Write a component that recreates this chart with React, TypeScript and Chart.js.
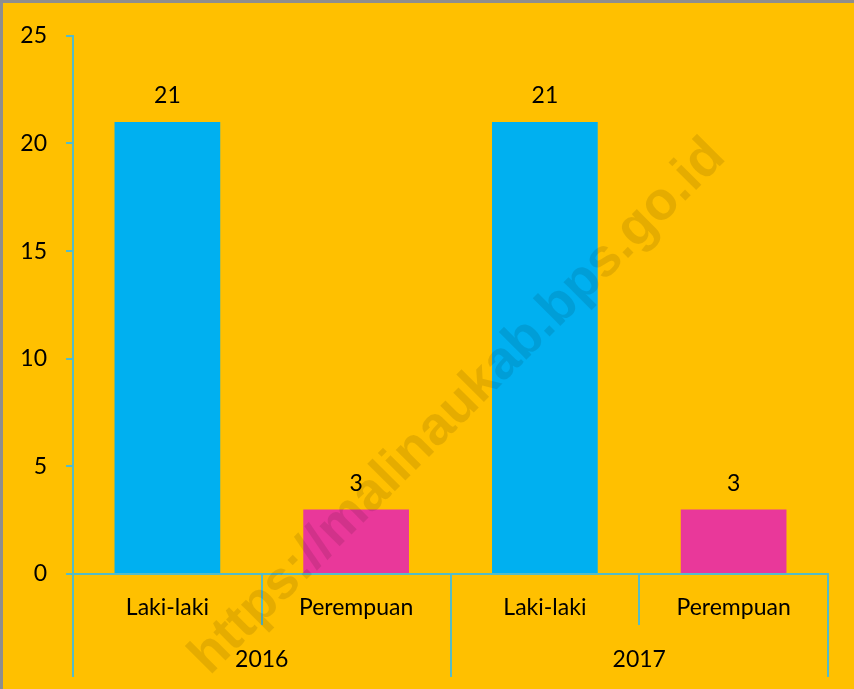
import React, { useEffect, useRef } from "react";
import { Chart, registerables } from "chart.js";

Chart.register(...registerables);

// ---- data ----
const years = ["2016", "2017"];
const genders = ["Laki-laki", "Perempuan"];
const lakiLaki = [21, 21];
const perempuan = [3, 3];
const yMax = 25;
const yStep = 5;

// ---- styles ----
const AXIS = "#55BCC8";
const CYAN = "#00B0F0";
const PINK = "#E9389A";
const BG = "#FFC000";
const FONT = "Lato";
const FS = 23;
const WATERMARK = "https://malinaukab.bps.go.id";

const labels: string[] = [];
const values: number[] = [];
const colors: string[] = [];
years.forEach((_, i) => {
  labels.push(genders[0]);
  values.push(lakiLaki[i]);
  colors.push(CYAN);
  labels.push(genders[1]);
  values.push(perempuan[i]);
  colors.push(PINK);
});

const groupAxisPlugin = {
  id: "groupAxis",
  afterDraw(chart: any) {
    const { ctx, chartArea } = chart;
    const x = chart.scales.x;
    const n = labels.length;
    const step = (x.right - x.left) / n;
    const bounds: number[] = [];
    for (let i = 0; i <= n; i++) bounds.push(x.left + i * step);
    ctx.save();
    ctx.strokeStyle = AXIS;
    ctx.lineWidth = 2;
    bounds.forEach((b, i) => {
      const isYear = i % genders.length === 0;
      ctx.beginPath();
      ctx.moveTo(Math.round(b), chartArea.bottom);
      ctx.lineTo(Math.round(b), chartArea.bottom + (isYear ? 103 : 51));
      ctx.stroke();
    });
    ctx.fillStyle = "#000";
    ctx.font = `${FS}px ${FONT}`;
    ctx.textAlign = "center";
    ctx.textBaseline = "middle";
    years.forEach((yr, k) => {
      const cx = (bounds[k * genders.length] + bounds[(k + 1) * genders.length]) / 2;
      ctx.fillText(yr, cx, chartArea.bottom + 86);
    });
    ctx.restore();
  },
};

const valueLabelPlugin = {
  id: "valueLabels",
  afterDatasetsDraw(chart: any) {
    const { ctx } = chart;
    const meta = chart.getDatasetMeta(0);
    ctx.save();
    ctx.fillStyle = "#000";
    ctx.font = `${FS}px ${FONT}`;
    ctx.textAlign = "center";
    ctx.textBaseline = "middle";
    meta.data.forEach((bar: any, i: number) => {
      ctx.fillText(String(values[i]), bar.x, bar.y - 26);
    });
    ctx.restore();
  },
};

const watermarkPlugin = {
  id: "watermark",
  afterDraw(chart: any) {
    const { ctx } = chart;
    ctx.save();
    ctx.translate(455, 404);
    ctx.rotate(-Math.PI / 4);
    ctx.font = `bold 54px "Liberation Sans"`;
    ctx.fillStyle = "rgba(0,0,0,0.1)";
    ctx.textAlign = "center";
    ctx.textBaseline = "middle";
    ctx.fillText(WATERMARK, 0, 0);
    ctx.restore();
  },
};

export default function App() {
  const canvasRef = useRef<HTMLCanvasElement | null>(null);

  useEffect(() => {
    if (!canvasRef.current) return;
    const chart = new Chart(canvasRef.current, {
      type: "bar",
      data: {
        labels,
        datasets: [
          {
            data: values,
            backgroundColor: colors,
            borderWidth: 0,
            categoryPercentage: 0.56,
            barPercentage: 1,
          },
        ],
      },
      options: {
        animation: false,
        responsive: true,
        maintainAspectRatio: false,
        layout: { padding: { top: 30, right: 26, left: 0, bottom: 0 } },
        plugins: {
          legend: { display: false },
          tooltip: { enabled: false },
        },
        scales: {
          x: {
            grid: { display: false, drawTicks: false },
            border: { display: true, color: AXIS, width: 2 },
            ticks: {
              color: "#000",
              font: { family: FONT, size: FS },
              padding: 20,
              maxRotation: 0,
              autoSkip: false,
            },
            afterFit: (s: any) => {
              s.height = 115;
            },
          },
          y: {
            min: 0,
            max: yMax,
            grid: {
              drawOnChartArea: false,
              drawTicks: true,
              tickLength: 7,
              color: AXIS,
              lineWidth: 2,
            },
            border: { display: true, color: AXIS, width: 2 },
            ticks: {
              stepSize: yStep,
              color: "#000",
              font: { family: FONT, size: FS },
              padding: 19,
            },
            afterFit: (s: any) => {
              s.width = 70;
            },
          },
        },
      },
      plugins: [valueLabelPlugin, groupAxisPlugin, watermarkPlugin],
    });
    return () => chart.destroy();
  }, []);

  return (
    <div
      style={{
        position: "absolute",
        left: 0,
        top: 0,
        width: 854,
        height: 689,
        boxSizing: "border-box",
        background: BG,
        borderLeft: "3px solid #8E8E8E",
        borderTop: "3px solid #8E8E8E",
      }}
    >
      <div style={{ position: "relative", width: 851, height: 686 }}>
        <canvas ref={canvasRef} />
      </div>
    </div>
  );
}
